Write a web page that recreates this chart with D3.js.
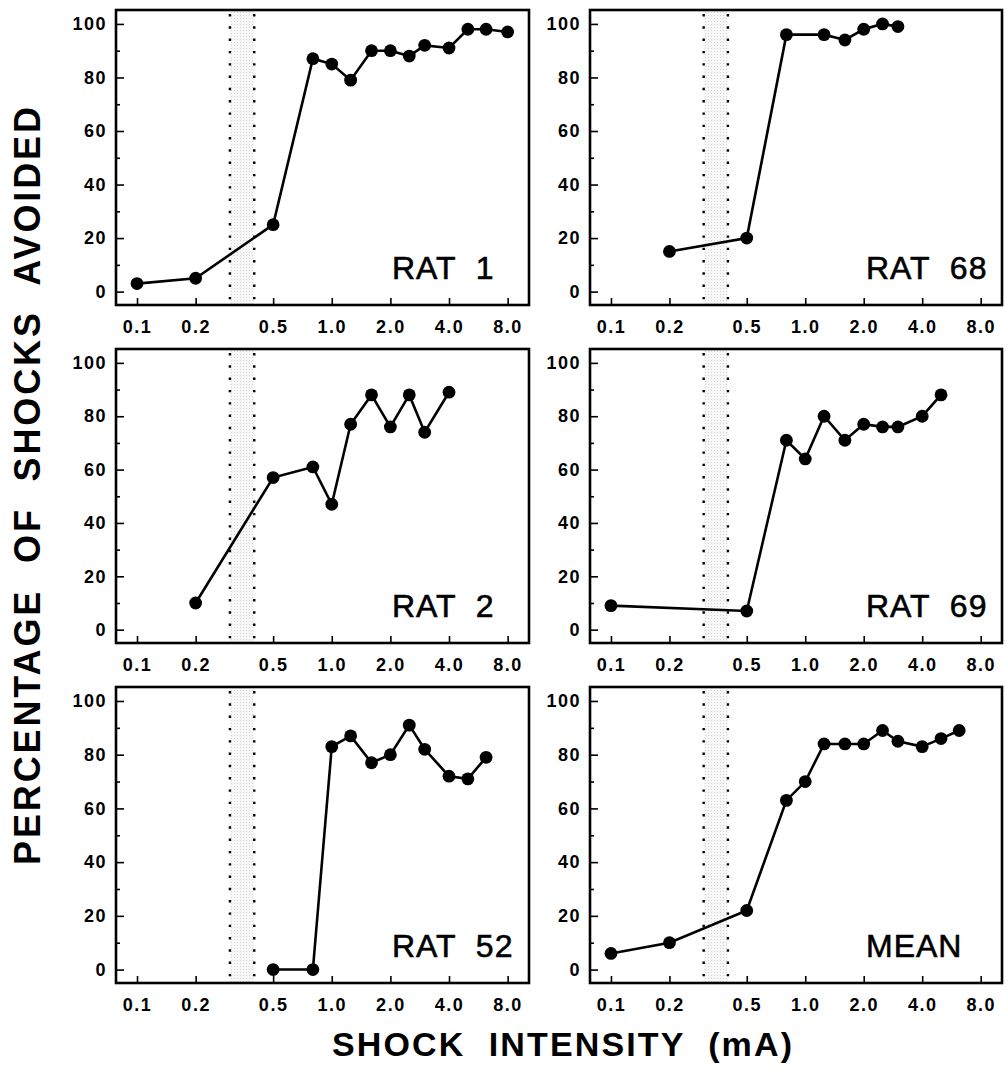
<!DOCTYPE html>
<html>
<head>
<meta charset="utf-8">
<script src="https://cdn.jsdelivr.net/npm/d3@7"></script>
<style>
  body { margin: 0; background: #fff; }
  svg { display: block; font-family: "Liberation Sans", Arial, Helvetica, sans-serif; }
</style>
</head>
<body>
<div id="chart"></div>
<script>
// tick values and the shaded threshold band (mA)
const xTickValues = [0.1, 0.2, 0.5, 1.0, 2.0, 4.0, 8.0];
const yTickValues = [0, 20, 40, 60, 80, 100];
const yMinorTickValues = [10, 30, 50, 70, 90];
const bandRange = [0.3, 0.4];

// per-rat data: shock intensity (mA) and % of shocks avoided
const rat1Shock   = [0.1, 0.2, 0.5, 0.8, 1.0, 1.25, 1.6, 2.0, 2.5, 3.0, 4.0, 5.0, 6.2, 8.0];
const rat1Avoided = [3, 5, 25, 87, 85, 79, 90, 90, 88, 92, 91, 98, 98, 97];

const rat68Shock   = [0.2, 0.5, 0.8, 1.25, 1.6, 2.0, 2.5, 3.0];
const rat68Avoided = [15, 20, 96, 96, 94, 98, 100, 99];

const rat2Shock   = [0.2, 0.5, 0.8, 1.0, 1.25, 1.6, 2.0, 2.5, 3.0, 4.0];
const rat2Avoided = [10, 57, 61, 47, 77, 88, 76, 88, 74, 89];

const rat69Shock   = [0.1, 0.5, 0.8, 1.0, 1.25, 1.6, 2.0, 2.5, 3.0, 4.0, 5.0];
const rat69Avoided = [9, 7, 71, 64, 80, 71, 77, 76, 76, 80, 88];

const rat52Shock   = [0.5, 0.8, 1.0, 1.25, 1.6, 2.0, 2.5, 3.0, 4.0, 5.0, 6.2];
const rat52Avoided = [0, 0, 83, 87, 77, 80, 91, 82, 72, 71, 79];

const meanShock   = [0.1, 0.2, 0.5, 0.8, 1.0, 1.25, 1.6, 2.0, 2.5, 3.0, 4.0, 5.0, 6.2];
const meanAvoided = [6, 10, 22, 63, 70, 84, 84, 84, 89, 85, 83, 86, 89];

const panelNames = ["RAT  1", "RAT  68", "RAT  2", "RAT  69", "RAT  52", "MEAN"];
const panelShock = [rat1Shock, rat68Shock, rat2Shock, rat69Shock, rat52Shock, meanShock];
const panelAvoided = [rat1Avoided, rat68Avoided, rat2Avoided, rat69Avoided, rat52Avoided, meanAvoided];

const width = 1007, height = 1074;
const columns = [[116, 529], [590, 1002]];
const rows = [[10, 305], [349, 643], [687, 983]];

const svg = d3.select("#chart").append("svg")
  .attr("width", width)
  .attr("height", height);

// light stipple for the threshold band
const pat = svg.append("defs").append("pattern")
  .attr("id", "stipple")
  .attr("patternUnits", "userSpaceOnUse")
  .attr("width", 3).attr("height", 3);
pat.append("rect").attr("width", 3).attr("height", 3).attr("fill", "#f7f7f7");
pat.append("rect").attr("width", 1).attr("height", 1).attr("fill", "#d6d6d6");

const styleTicks = g => g
  .attr("font-size", 18)
  .attr("font-family", null)
  .call(g => g.selectAll("text")
    .attr("font-weight", "bold")
    .style("letter-spacing", "1.5px")
    .attr("fill", "#000"));

panelNames.forEach((name, i) => {
  const [x0, x1] = columns[i % 2];
  const [y0, y1] = rows[Math.floor(i / 2)];

  const x = d3.scaleLog().domain([0.078, 10.3]).range([x0, x1]);
  const y = d3.scaleLinear().domain([-5, 105.2]).range([y1, y0]);

  const g = svg.append("g");

  // band
  g.append("rect")
    .attr("x", x(bandRange[0]))
    .attr("y", y0)
    .attr("width", x(bandRange[1]) - x(bandRange[0]))
    .attr("height", y1 - y0)
    .attr("fill", "url(#stipple)");

  g.selectAll("line.band")
    .data(bandRange)
    .join("line")
      .attr("class", "band")
      .attr("x1", d => x(d)).attr("x2", d => x(d))
      .attr("y1", y0 + 4).attr("y2", y1)
      .attr("stroke", "#000")
      .attr("stroke-width", 2.4)
      .attr("stroke-dasharray", "2.4 9.9");

  // x axis
  g.append("g")
    .attr("transform", `translate(0,${y1})`)
    .call(d3.axisBottom(x)
      .tickValues(xTickValues)
      .tickFormat(d3.format(".1f"))
      .tickSizeInner(-7).tickSizeOuter(0).tickPadding(15))
    .call(g => g.select(".domain").remove())
    .call(g => g.selectAll("line").attr("stroke-width", 1.6))
    .call(styleTicks);

  // y axis
  g.append("g")
    .attr("transform", `translate(${x0},0)`)
    .call(d3.axisLeft(y)
      .tickValues(yTickValues)
      .tickSizeInner(-8).tickSizeOuter(0).tickPadding(9))
    .call(g => g.select(".domain").remove())
    .call(g => g.selectAll("line").attr("stroke-width", 1.6))
    .call(styleTicks);

  g.append("g")
    .attr("transform", `translate(${x0},0)`)
    .call(d3.axisLeft(y)
      .tickValues(yMinorTickValues)
      .tickSizeInner(-4).tickSizeOuter(0).tickFormat(""))
    .call(g => g.select(".domain").remove())
    .call(g => g.selectAll("line").attr("stroke-width", 1.6));

  // frame
  g.append("rect")
    .attr("x", x0).attr("y", y0)
    .attr("width", x1 - x0).attr("height", y1 - y0)
    .attr("fill", "none")
    .attr("stroke", "#000")
    .attr("stroke-width", 2.6);

  // data
  const pts = panelShock[i].map((s, j) => ({ s, v: panelAvoided[i][j] }));

  g.append("path")
    .datum(pts)
    .attr("fill", "none")
    .attr("stroke", "#000")
    .attr("stroke-width", 2.6)
    .attr("d", d3.line().x(d => x(d.s)).y(d => y(d.v)));

  g.selectAll("circle")
    .data(pts)
    .join("circle")
      .attr("cx", d => x(d.s))
      .attr("cy", d => y(d.v))
      .attr("r", 6.4)
      .attr("fill", "#000");

  // panel label
  g.append("text")
    .attr("x", x0 + 276)
    .attr("y", y1 - 26)
    .style("white-space", "pre")
    .style("font-size", "32px")
    .style("letter-spacing", "1px")
    .attr("fill", "#000")
    .attr("stroke", "#000")
    .attr("stroke-width", 0.6)
    .text(name);
});

// axis titles
svg.append("text")
  .attr("x", 562)
  .attr("y", 1056)
  .attr("text-anchor", "middle")
  .style("font-size", "34px")
  .style("font-weight", "bold")
  .style("white-space", "pre")
  .attr("textLength", 460)
  .attr("lengthAdjust", "spacing")
  .text("SHOCK  INTENSITY  (mA)");

svg.append("text")
  .attr("transform", "translate(40,486) rotate(-90)")
  .attr("text-anchor", "middle")
  .style("font-size", "36px")
  .style("font-weight", "bold")
  .style("white-space", "pre")
  .attr("textLength", 758)
  .attr("lengthAdjust", "spacing")
  .text("PERCENTAGE  OF  SHOCKS  AVOIDED");
</script>
</body>
</html>
